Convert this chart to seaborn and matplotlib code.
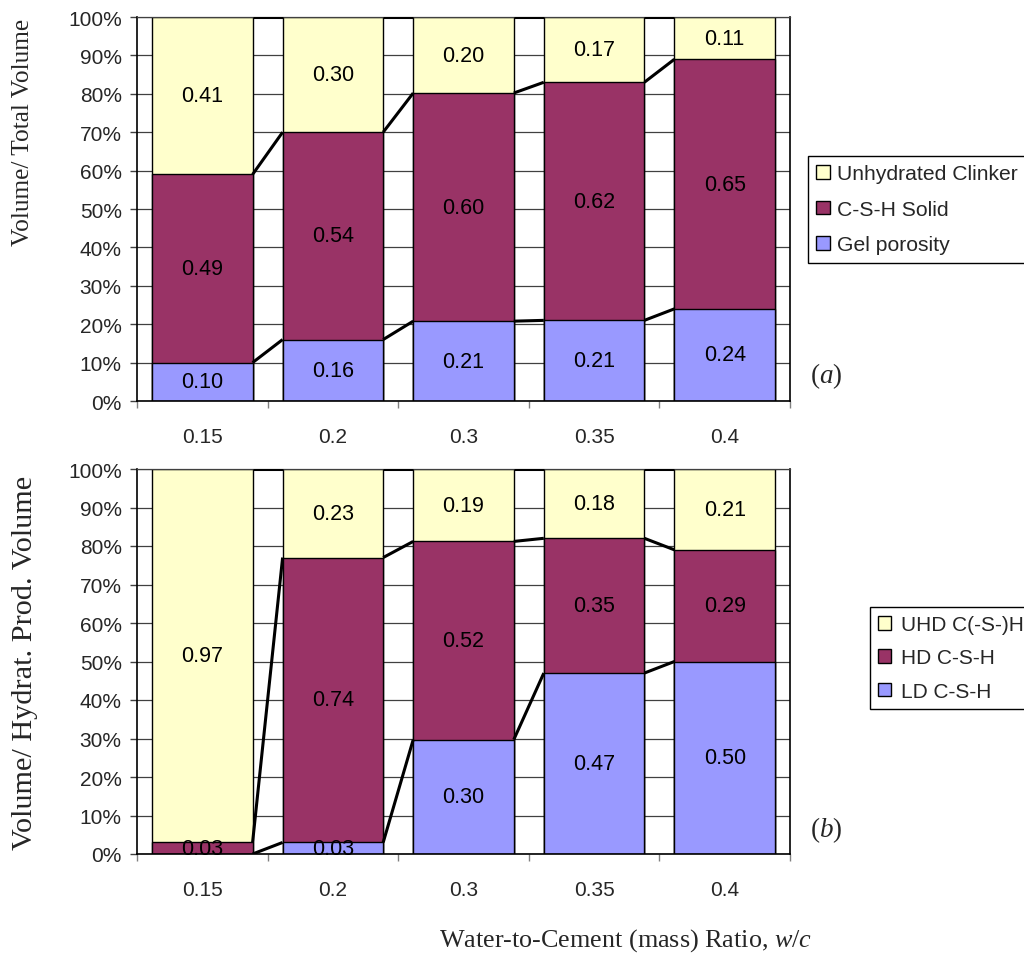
import numpy as np
import pandas as pd
import matplotlib
matplotlib.use("Agg")
import matplotlib.pyplot as plt
from matplotlib.patches import Patch
from matplotlib.ticker import PercentFormatter, FixedLocator
import seaborn as sns

# Water-to-cement ratios (categories)
wc_ratios = ["0.15", "0.2", "0.3", "0.35", "0.4"]

# (a) volume fractions of the total paste volume
gel_porosity = [0.10, 0.16, 0.21, 0.21, 0.24]
csh_solid = [0.49, 0.54, 0.60, 0.62, 0.65]
unhydrated_clinker = [0.41, 0.30, 0.20, 0.17, 0.11]

# (b) volume fractions of the hydration products
ld_csh = [0.00, 0.03, 0.30, 0.47, 0.50]
hd_csh = [0.03, 0.74, 0.52, 0.35, 0.29]
uhd_csh = [0.97, 0.23, 0.19, 0.18, 0.21]

top_names = ["Gel porosity", "C-S-H Solid", "Unhydrated Clinker"]
bottom_names = ["LD C-S-H", "HD C-S-H", "UHD C(-S-)H"]
layer_colors = ["#9999FF", "#993366", "#FFFFCC"]

sns.set_theme(style="white")
plt.rcParams["font.family"] = ["Liberation Sans", "DejaVu Sans"]
plt.rcParams["mathtext.fontset"] = "custom"
plt.rcParams["mathtext.rm"] = "Liberation Serif"
plt.rcParams["mathtext.it"] = "Liberation Serif:italic"

SERIF = ["Liberation Serif", "DejaVu Serif"]
TICK_FS = 15
LABEL_FS = 15.5

W, H = 1024, 954
fig = plt.figure(figsize=(W / 100, H / 100), dpi=100)


def fig_box(left, top, right, bottom):
    return [left / W, 1 - bottom / H, (right - left) / W, (bottom - top) / H]


def draw_panel(ax, layers, names):
    vals = np.array(layers, dtype=float)
    frac = vals / vals.sum(axis=0)          # 100 % stacked
    cum = np.cumsum(frac, axis=0)
    lower = cum - frac

    # stacked bars: draw the cumulative totals from the top layer down
    bar_boxes = None
    for i in reversed(range(len(names))):
        df = pd.DataFrame({"wc": wc_ratios, "level": cum[i]})
        sns.barplot(data=df, x="wc", y="level", order=wc_ratios,
                    color=layer_colors[i], saturation=1, errorbar=None,
                    width=0.77, edgecolor="black", linewidth=1.0,
                    ax=ax, zorder=2)
        if bar_boxes is None:
            bar_boxes = [(p.get_x(), p.get_x() + p.get_width())
                         for p in ax.containers[-1].patches]

    # series lines joining the segment tops of neighbouring bars
    for i in range(len(names)):
        for j in range(len(wc_ratios) - 1):
            ax.plot([bar_boxes[j][1], bar_boxes[j + 1][0]],
                    [cum[i][j], cum[i][j + 1]],
                    color="black", lw=2.2, zorder=3,
                    solid_capstyle="butt")

    # value labels in the middle of each segment
    for i in range(len(names)):
        for j in range(len(wc_ratios)):
            if vals[i][j] <= 0:
                continue
            xc = 0.5 * (bar_boxes[j][0] + bar_boxes[j][1])
            ax.text(xc, lower[i][j] + frac[i][j] / 2, f"{vals[i][j]:.2f}",
                    ha="center", va="center", fontsize=LABEL_FS,
                    color="black", zorder=4)

    ax.set_xlim(-0.5, len(wc_ratios) - 0.5)
    ax.set_ylim(0, 1)
    ax.set_yticks(np.linspace(0, 1, 11))
    ax.yaxis.set_major_formatter(PercentFormatter(1.0, decimals=0))
    ax.xaxis.set_minor_locator(FixedLocator(np.arange(-0.5, len(wc_ratios), 1.0)))
    ax.tick_params(axis="x", which="major", length=0, pad=19, labelsize=TICK_FS)
    ax.tick_params(axis="x", which="minor", length=5, width=1, color="#808080",
                   direction="out", bottom=True)
    ax.tick_params(axis="y", which="major", length=5, width=1, color="#404040",
                   direction="out", left=True, pad=6, labelsize=TICK_FS)
    ax.yaxis.grid(True, color="#404040", lw=0.9)
    ax.set_axisbelow(True)
    for s in ax.spines.values():
        s.set_color("black")
        s.set_linewidth(1.2)
    ax.spines["top"].set_color("#404040")
    ax.spines["top"].set_linewidth(0.9)
    ax.set_xlabel("")
    ax.set_ylabel("")


ax_a = fig.add_axes(fig_box(137, 18, 790, 402))
draw_panel(ax_a, [gel_porosity, csh_solid, unhydrated_clinker], top_names)

ax_b = fig.add_axes(fig_box(137, 470, 790, 855))
draw_panel(ax_b, [ld_csh, hd_csh, uhd_csh], bottom_names)


def add_legend(names, left, top, size, textpad, spacing):
    handles = [Patch(facecolor=layer_colors[i], edgecolor="black", lw=1.0,
                     label=names[i]) for i in reversed(range(len(names)))]
    fig.legend(handles=handles, loc="upper left",
               bbox_to_anchor=(left / W, 1 - top / H), borderaxespad=0,
               frameon=True, fancybox=False, shadow=False,
               edgecolor="black", framealpha=1, fontsize=size,
               handlelength=0.62, handleheight=0.62, handletextpad=textpad,
               labelspacing=spacing, borderpad=0.4)


add_legend(top_names, 808, 157, 15.2, 0.35, 0.78)
add_legend(bottom_names, 870, 608, 15, 0.45, 0.68)

# axis titles and panel tags
fig.text(23 / W, 1 - 132 / H, "Volume/ Total Volume", rotation=90,
         ha="center", va="center", fontsize=18.3, family=SERIF)
fig.text(25 / W, 1 - 663 / H, "Volume/ Hydrat. Prod. Volume", rotation=90,
         ha="center", va="center", fontsize=21.8, family=SERIF)
fig.text(626 / W, 1 - 941 / H, r"Water-to-Cement (mass) Ratio, $\mathit{w/c}$",
         ha="center", va="center", fontsize=18.8, family=SERIF)
fig.text(826 / W, 1 - 376 / H, r"($\mathit{a}$)", ha="center", va="center",
         fontsize=19.5, family=SERIF)
fig.text(826 / W, 1 - 830 / H, r"($\mathit{b}$)", ha="center", va="center",
         fontsize=19.5, family=SERIF)

fig.savefig("out.png", dpi=100, facecolor="white")
